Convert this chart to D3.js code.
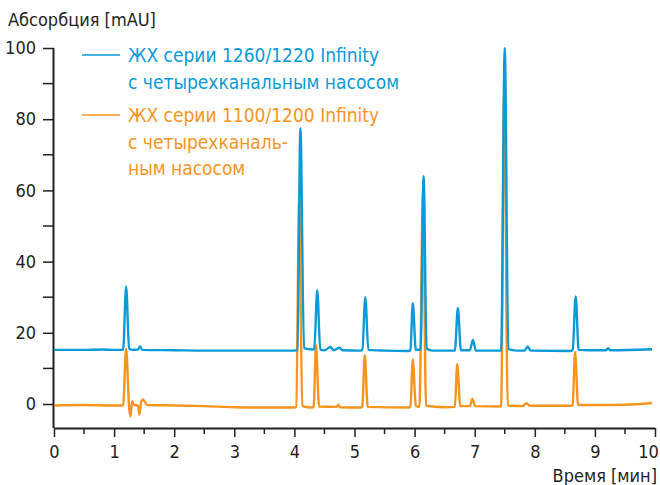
<!DOCTYPE html>
<html>
<head>
<meta charset="utf-8" />
<title>chromatogram</title>
<style>
* { padding: 0; margin: 0; }
body { background: #fff; }
#graph { width: 660px; height: 485px; }
text { font-family: "Liberation Sans Narrow", "DejaVu Sans Condensed", "Roboto", sans-serif; }
</style>
</head>
<body>
<div id="graph"></div>
<script src="https://cdn.jsdelivr.net/npm/d3@7/dist/d3.min.js"></script>
<script>
// time [min], absorbance [mAU]
var blueTrace = [
    [0, 15.2], [0.5, 15.2], [0.8, 15.3], [1.0, 15.2], [1.15, 15.2], [1.2, 33], [1.25, 15.6], [1.3, 15.2],
    [1.4, 15.3], [1.43, 16.2], [1.47, 15.2], [2, 15.1], [2.5, 15.0], [3, 15.0], [3.5, 15.0], [4.0, 15.0],
    [4.05, 15.3], [4.1, 77.5], [4.16, 15.7], [4.3, 15.3], [4.33, 15.4], [4.38, 32], [4.43, 15.3], [4.5, 15.1],
    [4.6, 16], [4.65, 15.1], [4.75, 15.8], [4.8, 15.1], [5.1, 15.0], [5.13, 15.2], [5.18, 30], [5.23, 15.2],
    [5.5, 15.0], [5.9, 14.9], [5.93, 15.1], [5.97, 28.3], [6.02, 15.2], [6.1, 15.3], [6.15, 64], [6.2, 15.5],
    [6.3, 15.0], [6.67, 15.0], [6.72, 27], [6.77, 15.1], [6.92, 15.1], [6.97, 18], [7.02, 15.0], [7.44, 15.0],
    [7.5, 100], [7.56, 15.4], [7.7, 15.0], [7.83, 15.0], [7.88, 16.2], [7.93, 15.0], [8.6, 14.9], [8.63, 15.2],
    [8.68, 30.2], [8.73, 15.2], [8.9, 15.1], [9.18, 15.1], [9.22, 15.6], [9.26, 15.1], [9.95, 15.4]
];
var orangeTrace = [
    [0, -0.4], [0.5, -0.3], [1.0, -0.4], [1.15, -0.4], [1.2, 15.5], [1.25, -1], [1.27, -3.5], [1.3, 0.8],
    [1.33, -0.2], [1.4, -0.5], [1.42, -3], [1.45, 0.5], [1.48, 1.3], [1.55, -0.3], [2, -0.4], [2.5, -0.6],
    [3, -0.9], [3.5, -1.0], [4.0, -1.0], [4.03, -0.8], [4.08, 57.8], [4.13, -0.5], [4.3, -1], [4.32, -0.7],
    [4.36, 16.5], [4.41, -0.7], [4.7, -0.8], [4.73, -0.2], [4.76, -0.9], [5.1, -1], [5.13, -0.8], [5.17, 13.8],
    [5.22, -0.8], [5.9, -1], [5.93, -0.8], [5.97, 12.5], [6.02, -0.5], [6.08, -0.8], [6.14, 60], [6.19, -0.5],
    [6.5, -0.9], [6.67, -0.8], [6.71, 11.2], [6.76, -0.6], [6.92, -0.6], [6.96, 1.4], [7.01, -0.6], [7.44, -0.7],
    [7.49, 88], [7.55, -0.4], [7.8, -0.6], [7.86, 0.2], [7.92, -0.5], [8.6, -0.5], [8.63, -0.3], [8.67, 14.6],
    [8.72, -0.3], [9, -0.3], [9.5, -0.2], [9.95, 0.3]
];
var xTicks = [0, 1, 2, 3, 4, 5, 6, 7, 8, 9, 10];
var xMinorTicks = [0.5, 1.5, 2.5, 3.5, 4.5, 5.5, 6.5, 7.5, 8.5, 9.5];
var yTicks = [0, 20, 40, 60, 80, 100];
var yMinorTicks = [10, 30, 50, 70, 90];
var blueLabel = ["ЖХ серии 1260/1220 Infinity", "с четырехканальным насосом"];
var orangeLabel = ["ЖХ серии 1100/1200 Infinity", "с четырехканаль-", "ным насосом"];

var blue = "#0a9ad8", orange = "#f7941d", ink = "#231f20";

var svg = d3.select("#graph").append("svg").attr("width", 660).attr("height", 485);

var x = d3.scaleLinear().domain([0, 10]).range([54, 655]);
var y = d3.scaleLinear().domain([-6.74, 100]).range([428, 48]);

// axes
var xAxis = svg.append("g").attr("class", "x-axis").attr("transform", "translate(0,428)");
xAxis.call(d3.axisBottom(x).tickValues(xTicks).tickSize(9).tickPadding(8).tickFormat(d3.format("d")));
xAxis.append("g").selectAll("line").data(xMinorTicks).enter().append("line")
    .attr("x1", function(d) { return x(d) }).attr("x2", function(d) { return x(d) })
    .attr("y1", 0).attr("y2", 6).attr("stroke", ink).attr("stroke-width", 1.5);
xAxis.select(".domain").attr("d", "M54,0.5H655");
// last label sits at the very edge, pull it in
xAxis.selectAll(".tick text").filter(function(d) { return d == 10 }).attr("dx", -7);

var yAxis = svg.append("g").attr("class", "y-axis").attr("transform", "translate(54,0)");
yAxis.call(d3.axisLeft(y).tickValues(yTicks).tickSize(11).tickPadding(7));
yAxis.append("g").selectAll("line").data(yMinorTicks).enter().append("line")
    .attr("x1", -11).attr("x2", 0)
    .attr("y1", function(d) { return y(d) }).attr("y2", function(d) { return y(d) })
    .attr("stroke", ink).attr("stroke-width", 1.5);
yAxis.select(".domain").attr("d", "M-0.5,48V428");

svg.selectAll(".domain").attr("stroke", ink).attr("stroke-width", 2);
svg.selectAll(".tick line").attr("stroke", ink).attr("stroke-width", 1.5);
svg.selectAll(".tick text").attr("fill", ink).style("font-size", "18px").style("font-family", null);

svg.append("text").attr("x", 8).attr("y", 26).attr("fill", ink).style("font-size", "18px").text("Абсорбция [mAU]");
svg.append("text").attr("x", 657).attr("y", 482).attr("text-anchor", "end").attr("fill", ink)
    .style("font-size", "18px").text("Время [мин]");

// traces
var line = d3.line().x(function(d) { return x(d[0]) }).y(function(d) { return y(d[1]) }).curve(d3.curveMonotoneX);
svg.append("path").datum(orangeTrace).attr("d", line).attr("fill", "none")
    .attr("stroke", orange).attr("stroke-width", 2.4).attr("stroke-linejoin", "round");
svg.append("path").datum(blueTrace).attr("d", line).attr("fill", "none")
    .attr("stroke", blue).attr("stroke-width", 2.4).attr("stroke-linejoin", "round");

// legend
function legend(lines, color, lineY, firstBase) {
    svg.append("line").attr("x1", 82).attr("x2", 120).attr("y1", lineY).attr("y2", lineY)
        .attr("stroke", color).attr("stroke-width", 1.5);
    svg.append("g").selectAll("text").data(lines).enter().append("text")
        .attr("x", 128).attr("y", function(d, i) { return firstBase + i * 26.5 })
        .attr("fill", color).style("font-size", "19px").text(function(d) { return d });
}
legend(blueLabel, blue, 55, 62);
legend(orangeLabel, orange, 115, 122);
</script>
</body>
</html>
